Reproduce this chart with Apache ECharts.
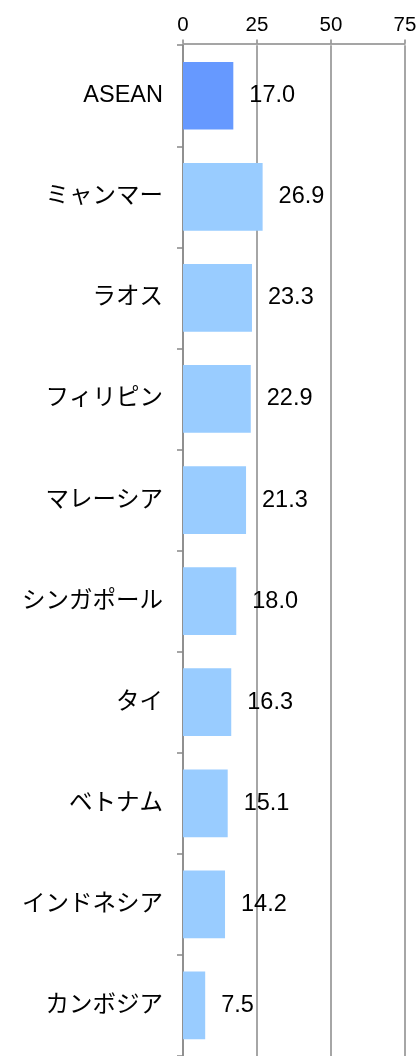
<!DOCTYPE html>
<html style="height: 100%">
<head>
<meta charset="utf-8">
<script src="https://cdn.jsdelivr.net/npm/echarts@6/dist/echarts.min.js"></script>
</head>
<body style="height: 100%; margin: 0; background: #ffffff">
<div id="container" style="width: 420px; height: 1056px"></div>
<script type="text/javascript">
var countries = ['ASEAN', 'ミャンマー', 'ラオス', 'フィリピン', 'マレーシア', 'シンガポール', 'タイ', 'ベトナム', 'インドネシア', 'カンボジア'];
var rates = [17.0, 26.9, 23.3, 22.9, 21.3, 18.0, 16.3, 15.1, 14.2, 7.5];
var axisTicks = [0, 25, 50, 75];

var fontFamily = '"Liberation Sans", Arial, "Noto Sans CJK JP", sans-serif';
var dom = document.getElementById('container');
var myChart = echarts.init(dom);

var option = {
	backgroundColor: '#ffffff',
	animation: false,
	grid: {
		left: 183,
		right: 15,
		top: 45.2,
		height: 1013.5
	},
	xAxis: {
		type: 'value',
		position: 'top',
		offset: 1.7,
		min: axisTicks[0],
		max: axisTicks[axisTicks.length - 1],
		interval: axisTicks[1] - axisTicks[0],
		axisLine: { show: true, lineStyle: { color: '#888888', width: 1.5 } },
		axisTick: { show: true, length: 4, lineStyle: { color: '#888888', width: 1.5 } },
		splitLine: { show: true, lineStyle: { color: '#888888', width: 1.5 } },
		axisLabel: { color: '#000000', fontSize: 20.5, fontFamily: fontFamily, margin: 8 }
	},
	yAxis: {
		type: 'category',
		inverse: true,
		data: countries,
		axisLine: { show: true, lineStyle: { color: '#888888', width: 1.5 } },
		axisTick: { show: true, length: 6, lineStyle: { color: '#888888', width: 1.5 } },
		axisLabel: { color: '#000000', fontSize: 23.5, fontFamily: fontFamily, margin: 20, padding: [3, 0, 0, 0] }
	},
	series: [{
		type: 'bar',
		barCategoryGap: '33%',
		data: rates.map(function (v, i) {
			return {
				value: v,
				itemStyle: { color: i === 0 ? '#6699ff' : '#99ccff' }
			};
		}),
		label: {
			show: true,
			position: 'right',
			distance: 16,
			padding: [4, 0, 0, 0],
			color: '#000000',
			fontSize: 23.5,
			fontFamily: fontFamily,
			formatter: function (p) {
				return p.value.toFixed(1);
			}
		}
	}]
};
myChart.setOption(option, true);
</script>
</body>
</html>
